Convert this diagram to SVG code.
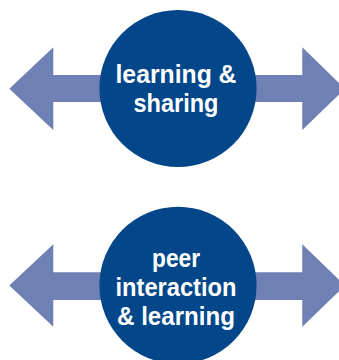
<svg xmlns="http://www.w3.org/2000/svg" width="339" height="360" viewBox="0 0 339 360">
<style>
.arrow{fill:#6F80B4}
.circle{fill:#03478A}
.label{font-family:"Liberation Sans",Arial,sans-serif;font-weight:bold;font-size:25px;fill:#FFFFFF;text-anchor:middle}
</style>
<rect width="339" height="360" fill="#FFFFFF"/>
<g id="connectors">
<polygon class="arrow" points="9.3,88.7 53.3,47.3 53.3,75 180,75 180,102 53.3,102 53.3,130"/>
<polygon class="arrow" points="345,88.7 302.3,47.3 302.3,75 180,75 180,102 302.3,102 302.3,130"/>
<polygon class="arrow" points="9.3,285.5 53.3,244.3 53.3,272.3 180,272.3 180,300 53.3,300 53.3,326.7"/>
<polygon class="arrow" points="345,285.5 302.3,244.3 302.3,272.3 180,272.3 180,300 302.3,300 302.3,326.7"/>
</g>
<g id="node-learning-sharing">
<circle class="circle" cx="178" cy="88.5" r="78.6"/>
<text class="label" x="176" y="83.3" textLength="121" lengthAdjust="spacingAndGlyphs">learning &amp;</text>
<text class="label" x="176" y="111.7" textLength="85" lengthAdjust="spacingAndGlyphs">sharing</text>
</g>
<g id="node-peer-interaction">
<circle class="circle" cx="178" cy="285.3" r="78.6"/>
<text class="label" x="176" y="266.7" textLength="48" lengthAdjust="spacingAndGlyphs">peer</text>
<text class="label" x="176" y="296.4" textLength="121" lengthAdjust="spacingAndGlyphs">interaction</text>
<text class="label" x="176" y="324.5" textLength="118" lengthAdjust="spacingAndGlyphs">&amp; learning</text>
</g>
</svg>
